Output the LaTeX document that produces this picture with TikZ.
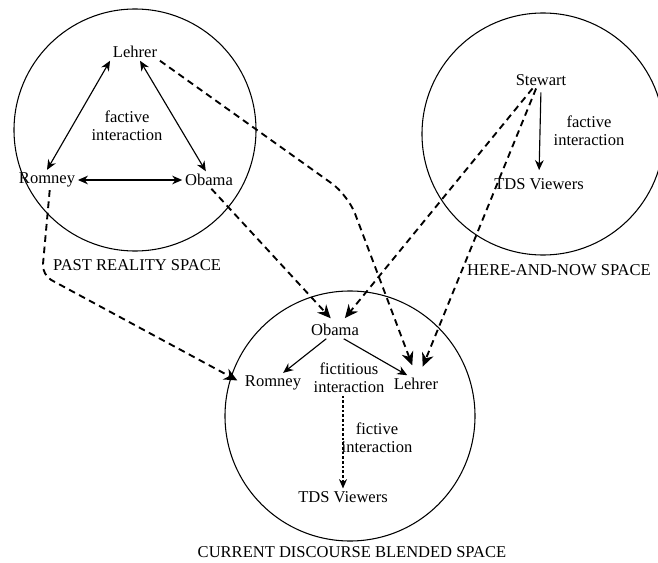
\documentclass[tikz,border=0pt]{standalone}
\usepackage{fontspec}
\setmainfont{Liberation Serif}
\usetikzlibrary{arrows.meta,positioning}

\tikzset{
    actor/.style={font=\fontsize{12.4}{13.4}\selectfont, inner sep=2pt},
    note/.style={actor, align=center},
    spacelabel/.style={font=\fontsize{12.4}{13.4}\selectfont},
    link/.style={line width=0.85pt, -{Stealth[length=7.5pt,width=6.5pt]}},
    twoway/.style={line width=0.85pt, {Stealth[length=7.5pt,width=6.5pt]}-{Stealth[length=7.5pt,width=6.5pt]}},
    dottedlink/.style={line width=0.8pt, dash pattern=on 2pt off 1.5pt, -{Stealth[length=7pt,width=6pt]}},
    mapping/.style={line width=1.4pt, dash pattern=on 5pt off 3.5pt, -{Stealth[length=10pt,width=9pt]}}
}

\begin{document}
\begin{tikzpicture}[x=30pt,y=30pt]
    \useasboundingbox (0,0) rectangle (16.45,14.05);

    % Mental spaces
    \draw[line width=0.8pt] (3.375,10.8) circle (3.025);
    \draw[line width=0.8pt] (13.575,10.7) circle (3.025);
    \draw[line width=0.8pt] (8.75,3.65) circle (3.125);
    \node[spacelabel] (pastLabel) at (3.425,7.425) {PAST REALITY SPACE};
    \node[spacelabel] (nowLabel) at (13.975,7.3) {HERE-AND-NOW SPACE};
    \node[spacelabel] (blendLabel) at (8.8,0.25) {CURRENT DISCOURSE BLENDED SPACE};

    % Past reality space
    \node[actor] (lehrerPast) at (3.375,12.75) {Lehrer};
    \node[actor] (romneyPast) at (1.175,9.55) {Romney};
    \node[actor] (obamaPast) at (5.225,9.55) {Obama};
    \node[note] (factPast) at (3.175,10.9) {factive\\interaction};
    \draw[twoway] (lehrerPast.south west) -- (romneyPast.north);
    \draw[twoway] (lehrerPast.-60) -- (obamaPast.110);
    \draw[twoway] (romneyPast.east) -- (obamaPast.west);

    % Here-and-now space
    \node[actor] (stewart) at (13.525,12.05) {Stewart};
    \node[actor] (viewersNow) at (13.475,9.45) {TDS Viewers};
    \node[note] (factNow) at (14.725,10.775) {factive\\interaction};
    \draw[link, shorten <=3pt, shorten >=4pt] (stewart.south) -- (viewersNow.north);

    % Blended space
    \node[actor] (obamaBlend) at (8.375,5.8) {Obama};
    \node[actor] (romneyBlend) at (6.825,4.475) {Romney};
    \node[actor] (lehrerBlend) at (10.4,4.45) {Lehrer};
    \node[note] (fictitious) at (8.725,4.6) {fictitious\\interaction};
    \node[note] (fictive) at (9.425,3.1) {fictive\\interaction};
    \node[actor] (viewersBlend) at (8.575,1.625) {TDS Viewers};
    \draw[link] (obamaBlend.-135) -- (romneyBlend.45);
    \draw[link] (obamaBlend.-45) -- (lehrerBlend.135);
    \draw[dottedlink] (fictitious.south -| viewersBlend.north) -- (viewersBlend.north);

    % Mappings into the blend
    \coordinate (bendLehrer) at (8.7,9.175);
    \coordinate (bendRomney) at (1.05,7.175);
    \draw[mapping, rounded corners=15pt, shorten >=8pt] (lehrerPast.south east) -- (bendLehrer) -- (lehrerBlend.north);
    \draw[mapping, shorten >=3pt] (obamaPast.-75) -- (obamaBlend.100);
    \draw[mapping, rounded corners=8pt, shorten >=4pt] (romneyPast.-75) -- (bendRomney) -- (romneyBlend.west);
    \draw[mapping, shorten >=3pt] (stewart.-135) -- (obamaBlend.50);
    \draw[mapping, shorten >=7pt] (stewart.-120) -- (lehrerBlend.70);
\end{tikzpicture}
\end{document}
